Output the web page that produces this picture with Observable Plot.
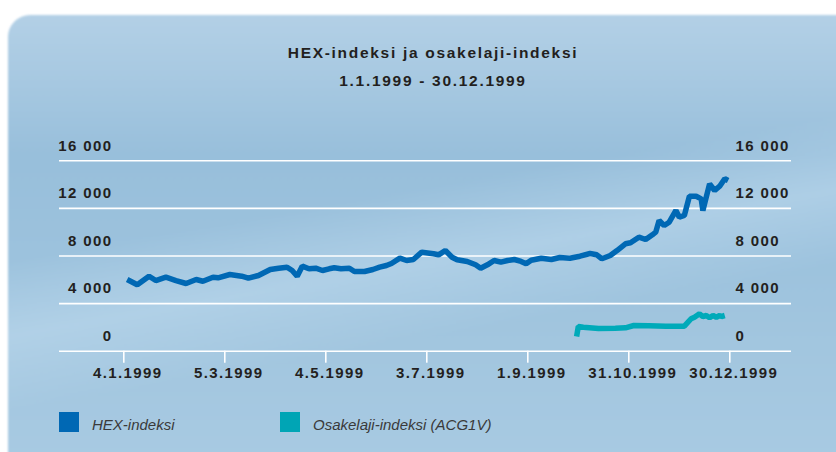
<!DOCTYPE html>
<html><head><meta charset="utf-8">
<script src="https://cdn.jsdelivr.net/npm/d3@7"></script>
<script src="https://cdn.jsdelivr.net/npm/@observablehq/plot@0.6"></script>
<style>
html,body{margin:0;padding:0;background:#fff;}
#wrap{position:relative;width:836px;height:452px;overflow:hidden;background:#fff;font-family:"Liberation Sans",Arial,sans-serif;}
#panel{position:absolute;left:8px;top:15px;right:-30px;bottom:-30px;border-radius:22px 0 0 0;
 background:
  linear-gradient(170deg, rgba(255,255,255,0) 40%, rgba(190,218,238,0.55) 52%, rgba(255,255,255,0) 64%),
  linear-gradient(180deg,#b3d0e6 0%,#a6c8e1 15%,#98bfdb 30%,#9cc2dd 50%,#a2c6df 70%,#a9cbe3 100%);
 filter:blur(1.2px);}
#title{position:absolute;left:0;top:39px;width:866px;text-align:center;font-weight:bold;font-size:15.5px;letter-spacing:1.7px;color:#231f20;line-height:28px;}
#chart{position:absolute;left:0;top:130px;}
.sw{position:absolute;width:20px;height:20px;top:412px;}
.lt{position:absolute;top:415px;font-size:15px;line-height:20px;font-style:italic;color:#3a3a3a;}
</style>
</head><body>
<div id="wrap">
 <div id="panel"></div>
 <div id="title">HEX-indeksi ja osakelaji-indeksi<br>1.1.1999 - 30.12.1999</div>
 <div id="chart"></div>
 <div class="sw" style="left:59px;background:#0068b4"></div>
 <div class="lt" style="left:92px">HEX-indeksi</div>
 <div class="sw" style="left:280px;background:#00a5b5"></div>
 <div class="lt" style="left:313px">Osakelaji-indeksi (ACG1V)</div>
</div>
<script>
const hexDates = ["1999-01-06","1999-01-12","1999-01-19","1999-01-23","1999-01-29","1999-02-04","1999-02-10","1999-02-16","1999-02-20","1999-02-26",
"1999-03-01","1999-03-08","1999-03-15","1999-03-19","1999-03-25","1999-04-01","1999-04-06","1999-04-11","1999-04-14","1999-04-17",
"1999-04-20","1999-04-24","1999-04-28","1999-05-02","1999-05-06","1999-05-09","1999-05-13","1999-05-18","1999-05-21","1999-05-27",
"1999-06-01","1999-06-05","1999-06-09","1999-06-12","1999-06-17","1999-06-21","1999-06-25","1999-06-30","1999-07-07","1999-07-10",
"1999-07-14","1999-07-18","1999-07-21","1999-07-27","1999-08-01","1999-08-04","1999-08-08","1999-08-12","1999-08-16","1999-08-20",
"1999-08-24","1999-08-28","1999-08-31","1999-09-03","1999-09-09","1999-09-15","1999-09-20","1999-09-26","1999-10-02","1999-10-08",
"1999-10-12","1999-10-15","1999-10-20","1999-10-24","1999-10-29","1999-11-01","1999-11-06","1999-11-10","1999-11-14","1999-11-16",
"1999-11-18","1999-11-21","1999-11-24","1999-11-28","1999-11-30","1999-12-03","1999-12-06","1999-12-10","1999-12-13","1999-12-14",
"1999-12-18","1999-12-21","1999-12-24","1999-12-27","1999-12-29"];
const hexValues = [6025,5580,6300,5940,6220,5940,5690,6025,5880,6220,
6170,6445,6300,6135,6360,6865,6975,7060,6780,6300,
7145,6925,6975,6780,6925,7010,6925,6975,6700,6700,
6865,7060,7200,7370,7815,7620,7705,8320,8185,8100,
8460,7900,7680,7540,7260,6975,7260,7620,7480,7620,
7705,7540,7345,7645,7815,7705,7875,7815,7985,8210,
8100,7765,8040,8460,9025,9110,9580,9385,9780,10000,
10985,10565,10840,11825,11260,11405,13025,13025,12805,11825,
14065,13505,13865,14490,14345];
const osDates = ["1999-09-30","1999-10-01","1999-10-04","1999-10-13","1999-10-23","1999-10-29","1999-11-03","1999-11-12","1999-11-22","1999-12-03",
"1999-12-07","1999-12-09","1999-12-12","1999-12-14","1999-12-16","1999-12-18","1999-12-20","1999-12-22","1999-12-24","1999-12-25","1999-12-27"];
const osValues = [1235,2075,2015,1905,1935,1965,2160,2135,2100,2100,
2725,2855,3145,2915,3000,2805,3000,2855,3000,2915,3000];
const xTickDates = ["1999-01-04","1999-03-05","1999-05-04","1999-07-03","1999-09-01","1999-10-31","1999-12-30"];
const yTickValues = [0,4000,8000,12000,16000];

const hex = hexDates.map((d,i)=>({date:new Date(d), value:hexValues[i]}));
const os = osDates.map((d,i)=>({date:new Date(d), value:osValues[i]}));
const xTicks = xTickDates.map(d=>new Date(d));
const fmtY = d => d3.format(",")(d).replace(/,/g," ");
const fmtX = d3.utcFormat("%-d.%-m.%Y");
const ink = "#231f20";

const chart = Plot.plot({
  width: 836, height: 260,
  marginLeft: 59, marginRight: 45, marginTop: 30.3, marginBottom: 39.3,
  style: {background:"transparent", fontFamily:"'Liberation Sans', Arial, sans-serif", fontSize:"15px", fontWeight:"bold", letterSpacing:"1.4px", color:ink, overflow:"visible"},
  x: {type:"utc", domain:[xTicks[0], xTicks[xTicks.length-1]], range:[123.3, 729.3], label:null},
  y: {domain:[0,16000], label:null},
  marks: [
    Plot.ruleY(yTickValues, {stroke:"white", strokeWidth:1.6, strokeOpacity:1}),
    Plot.axisX({ticks:xTicks, tickSize:12, tickFormat:()=>"", stroke:"white", strokeWidth:1.6, strokeOpacity:1, label:null}),
    Plot.axisX({ticks:xTicks, tickSize:0, tickPadding:16, tickFormat:fmtX, dx:4, fill:ink, label:null}),
    Plot.axisY({anchor:"left", ticks:yTickValues, tickSize:0, tickPadding:0, dx:53, dy:-15, tickFormat:fmtY, fill:ink, label:null}),
    Plot.axisY({anchor:"right", ticks:yTickValues, tickSize:0, tickPadding:0, dx:-56, dy:-15, tickFormat:fmtY, fill:ink, label:null}),
    Plot.line(os, {x:"date", y:"value", stroke:"#00aab9", strokeWidth:5.5, strokeLinejoin:"miter", strokeLinecap:"butt"}),
    Plot.line(hex, {x:"date", y:"value", stroke:"#0068b4", strokeWidth:5.5, strokeLinejoin:"miter", strokeLinecap:"butt"})
  ]
});
document.getElementById("chart").appendChild(chart);
</script>
</body></html>
